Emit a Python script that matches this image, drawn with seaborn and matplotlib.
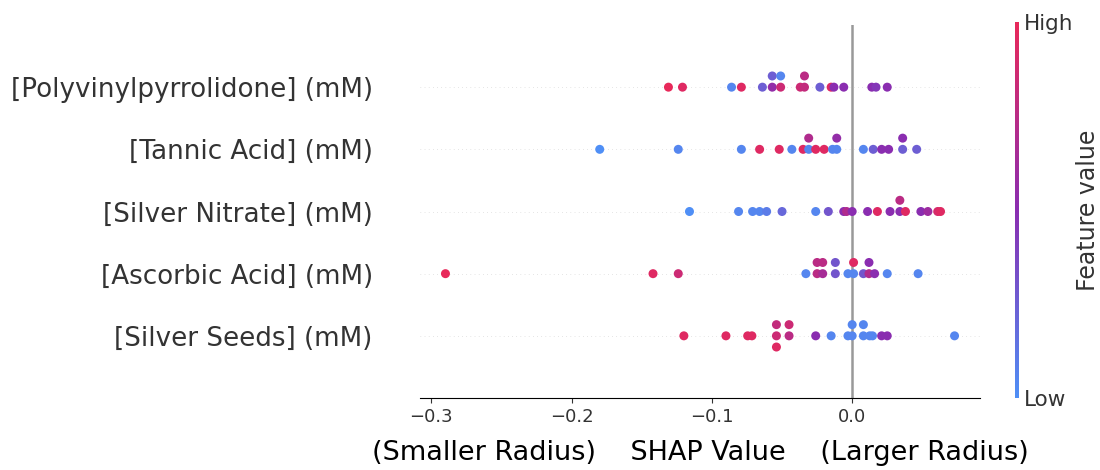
import numpy as np
import pandas as pd
import matplotlib
matplotlib.use("Agg")
import matplotlib.pyplot as plt
import seaborn as sns
from matplotlib.colors import LinearSegmentedColormap, Normalize
from matplotlib.cm import ScalarMappable

# feature names, top to bottom
features = ["[Polyvinylpyrrolidone] (mM)", "[Tannic Acid] (mM)", "[Silver Nitrate] (mM)",
            "[Ascorbic Acid] (mM)", "[Silver Seeds] (mM)"]

# shap values and (normalised) feature values
pvp_shap = [-0.131, -0.121, -0.086, -0.079, -0.064, -0.057, -0.057, -0.051, -0.051, -0.037,
            -0.034, -0.034, -0.023, -0.015, -0.013, -0.006, 0.014, 0.017, 0.025]
pvp_feat = [1.0, 0.95, 0.05, 0.95, 0.25, 0.55, 0.25, 0.85, 0.05, 0.85,
            0.8, 0.75, 0.25, 0.95, 0.5, 0.5, 0.5, 0.45, 0.5]

tannic_shap = [-0.180, -0.124, -0.079, -0.066, -0.052, -0.043, -0.035, -0.031, -0.031, -0.026,
               -0.020, -0.014, -0.011, -0.011, 0.008, 0.015, 0.021, 0.026, 0.036, 0.036, 0.046]
tannic_feat = [0.0, 0.05, 0.05, 0.95, 0.95, 0.05, 0.95, 0.05, 0.7, 0.95,
               0.95, 0.05, 0.05, 0.55, 0.05, 0.25, 0.5, 0.5, 0.25, 0.5, 0.25]

nitrate_shap = [-0.116, -0.081, -0.071, -0.066, -0.061, -0.050, -0.026, -0.017, -0.006, -0.004,
                0.000, 0.011, 0.018, 0.027, 0.034, 0.034, 0.038, 0.049, 0.054, 0.061, 0.063]
nitrate_feat = [0.0, 0.05, 0.05, 0.05, 0.1, 0.2, 0.05, 0.3, 0.5, 0.7,
                0.5, 0.5, 0.95, 0.5, 0.5, 0.75, 0.95, 0.5, 0.6, 0.9, 0.95]

ascorbic_shap = [-0.290, -0.142, -0.124, -0.033, -0.025, -0.025, -0.021, -0.021, -0.012, -0.012,
                 -0.003, 0.001, 0.001, 0.008, 0.012, 0.012, 0.016, 0.025, 0.047]
ascorbic_feat = [1.0, 0.95, 0.85, 0.05, 0.75, 0.75, 0.65, 0.75, 0.3, 0.3,
                 0.05, 0.05, 0.95, 0.3, 0.7, 0.5, 0.5, 0.05, 0.05]

seeds_shap = [-0.120, -0.090, -0.0745, -0.0715, -0.054, -0.054, -0.054, -0.045, -0.045, -0.026,
              -0.015, -0.003, 0.000, 0.000, 0.008, 0.008, 0.0125, 0.0145, 0.021, 0.025, 0.073]
seeds_feat = [0.95, 0.95, 0.95, 0.95, 0.85, 0.8, 0.95, 0.75, 0.85, 0.5,
              0.05, 0.05, 0.05, 0.05, 0.05, 0.05, 0.05, 0.05, 0.5, 0.5, 0.05]

shap_rows = [pvp_shap, tannic_shap, nitrate_shap, ascorbic_shap, seeds_shap]
feat_rows = [pvp_feat, tannic_feat, nitrate_feat, ascorbic_feat, seeds_feat]


def swarm_offsets(vals, nbins=100, row_height=0.4):
    # same binned layering as the shap beeswarm
    vals = np.asarray(vals, float)
    quant = np.round(nbins * (vals - vals.min()) / (vals.max() - vals.min() + 1e-8))
    inds = np.argsort(quant, kind="stable")
    ys = np.zeros(len(vals))
    layer = 0
    last = -1
    for i in inds:
        if quant[i] != last:
            layer = 0
        ys[i] = np.ceil(layer / 2) * ((layer % 2) * 2 - 1)
        layer += 1
        last = quant[i]
    ys *= 0.9 * (row_height / np.max(ys + 1))
    return ys


n = len(features)
frames = []
for k, (s, f) in enumerate(zip(shap_rows, feat_rows)):
    pos = n - 1 - k
    frames.append(pd.DataFrame({"shap": s, "feat": f, "y": pos + swarm_offsets(s)}))
df = pd.concat(frames, ignore_index=True)

cmap = LinearSegmentedColormap.from_list("red_blue", ["#4f8ff6", "#8a2db0", "#e8295a"])
axis_color = "#333333"

fig = plt.figure(figsize=(11, 4.7), dpi=100)
ax = fig.add_axes([420 / 1100, 72 / 470, 560 / 1100, 373 / 470])

ax.axvline(0, color="#999999", lw=1.8, zorder=-1)
for k in range(n):
    ax.axhline(k, color="#cccccc", lw=0.5, dashes=(1, 5), zorder=-1)

sns.scatterplot(data=df, x="shap", y="y", hue="feat", palette=cmap, hue_norm=(0, 1),
                s=42, linewidth=0, legend=False, ax=ax, zorder=3)

ax.set_ylim(-1, n)
ax.set_yticks(range(n))
ax.set_yticklabels(features[::-1], fontsize=18.8)
ax.set_xticks([-0.3, -0.2, -0.1, 0.0])
ax.tick_params("x", labelsize=13, color=axis_color, labelcolor=axis_color)
ax.tick_params("y", length=0, pad=34, labelcolor=axis_color)
ax.set_xlabel("(Smaller Radius)    SHAP Value    (Larger Radius)", fontsize=19.5,
              color="black", labelpad=10)
ax.set_ylabel("")
for side in ["left", "right", "top"]:
    ax.spines[side].set_visible(False)

cax = fig.add_axes([1015 / 1100, 72 / 470, 4 / 1100, 376 / 470])
cb = fig.colorbar(ScalarMappable(norm=Normalize(0, 1), cmap=cmap), cax=cax, ticks=[0, 1])
cb.set_ticklabels(["Low", "High"])
cb.ax.tick_params(labelsize=15.5, length=0, labelcolor=axis_color)
cb.set_label("Feature value", size=17, labelpad=2, color=axis_color)
cb.outline.set_visible(False)

plt.savefig("out.png", dpi=100)
